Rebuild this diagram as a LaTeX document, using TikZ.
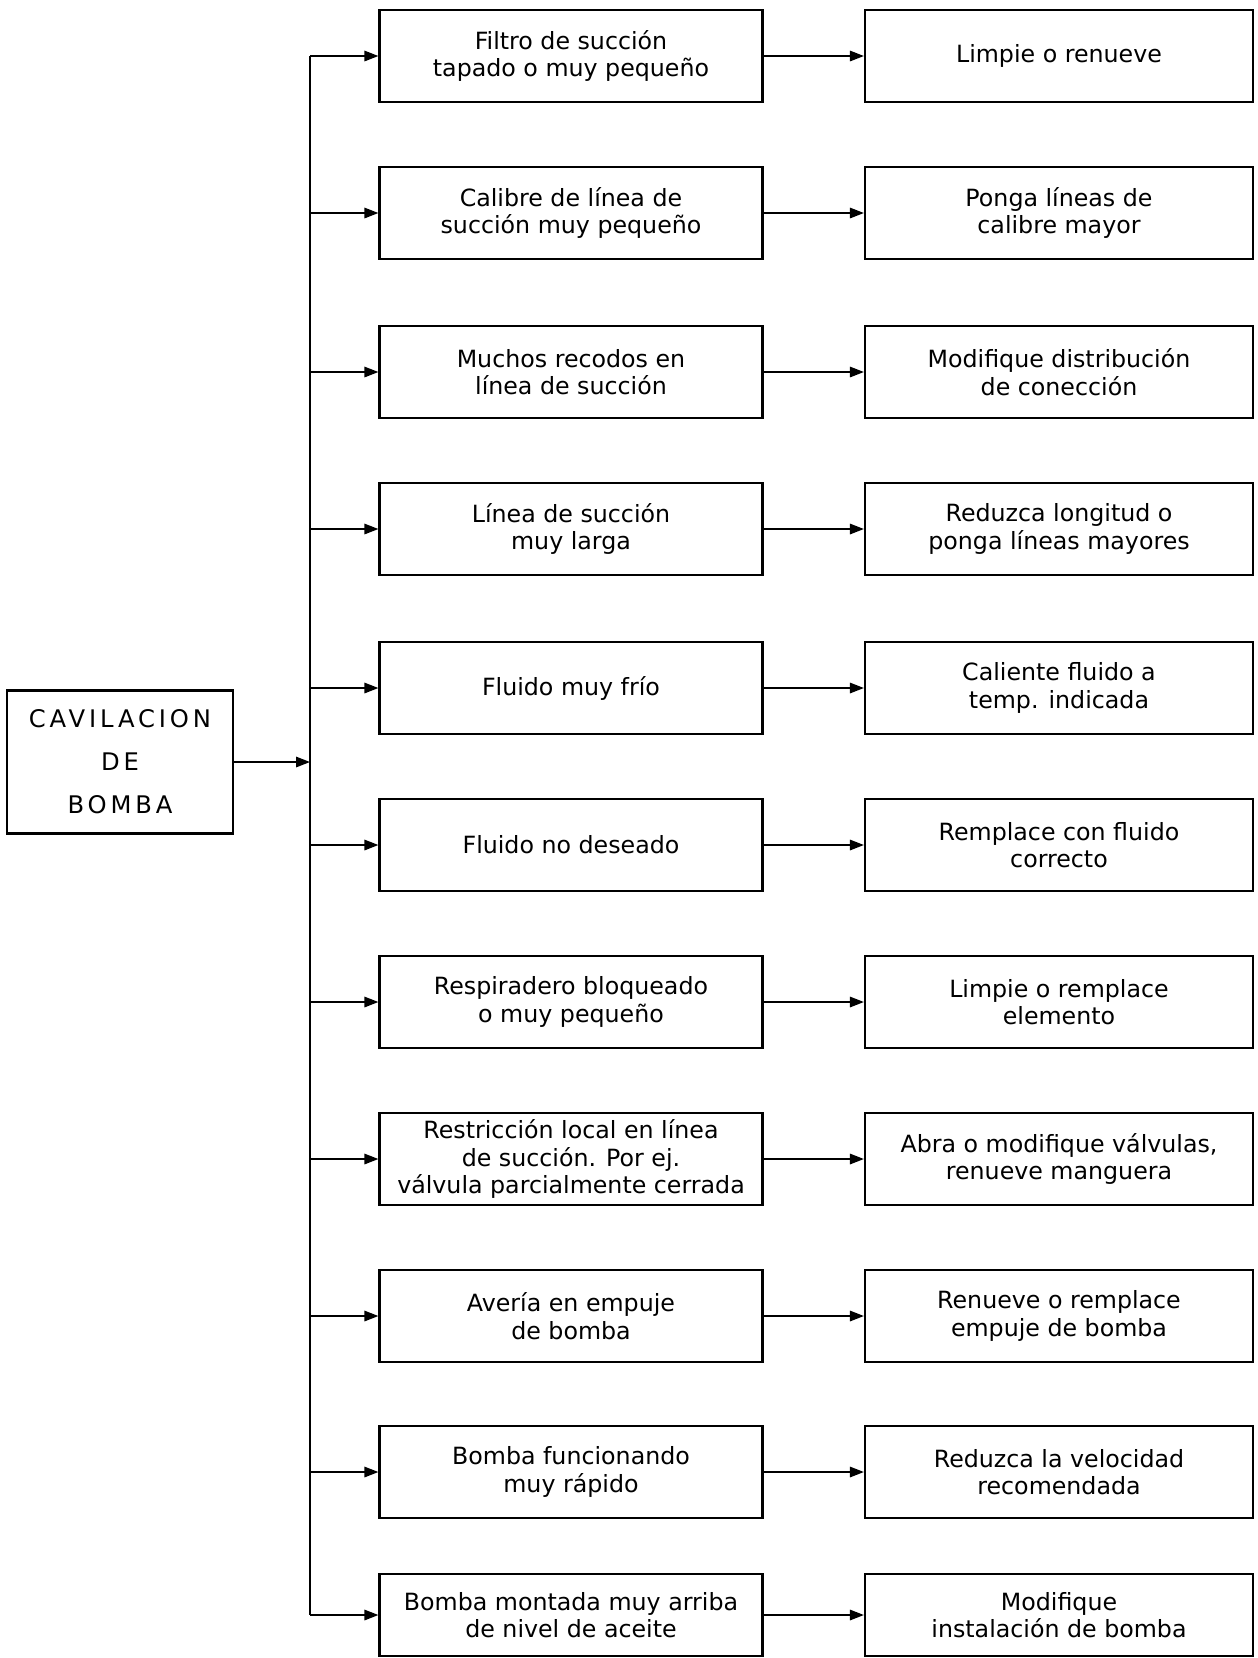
\documentclass[tikz,border=0pt]{standalone}
\usepackage{fontspec}
\setmainfont{DejaVu Sans}
\usetikzlibrary{arrows.meta}

\begin{document}
\begin{tikzpicture}[x=0.02cm, y=-0.02cm,
        causa/.style={rectangle, draw=black, line width=1.3pt, minimum width=7.66cm, minimum height=1.84cm,
            inner sep=0pt, align=center, font=\fontsize{13.5}{15.6}\selectfont},
        remedio/.style={causa, minimum width=7.76cm},
        flecha/.style={line width=0.9pt, -{Triangle[length=2.8mm, width=2.1mm]}}]
    \useasboundingbox (0,0) rectangle (1258,1658);

    % problema principal
    \node (cav)[rectangle, draw=black, line width=1.3pt, minimum width=4.52cm, minimum height=2.86cm, align=center,
        font=\addfontfeatures{LetterSpace=16}\fontsize{13.8}{24.4}\selectfont] at (120, 762) {CAVILACION\\DE\\BOMBA};

    % causas
    \node (c1)[causa] at (571, 56) {Filtro de succión\\tapado o muy pequeño};
    \node (c2)[causa] at (571, 213) {Calibre de línea de\\succión muy pequeño};
    \node (c3)[causa] at (571, 372) {Muchos recodos en\\línea de succión};
    \node (c4)[causa] at (571, 529) {Línea de succión\\muy larga};
    \node (c5)[causa] at (571, 688) {Fluido muy frío};
    \node (c6)[causa] at (571, 845) {Fluido no deseado};
    \node (c7)[causa] at (571, 1002) {Respiradero bloqueado\\o muy pequeño};
    \node (c8)[causa] at (571, 1159) {Restricción local en línea\\de succión. Por ej.\\válvula parcialmente cerrada};
    \node (c9)[causa] at (571, 1316) {Avería en empuje\\de bomba};
    \node (c10)[causa] at (571, 1472) {Bomba funcionando\\muy rápido};
    \node (c11)[causa, minimum height=1.64cm] at (571, 1615) {Bomba montada muy arriba\\de nivel de aceite};

    % remedios
    \node (s1)[remedio] at (1059, 56) {Limpie o renueve};
    \node (s2)[remedio] at (1059, 213) {Ponga líneas de\\calibre mayor};
    \node (s3)[remedio] at (1059, 372) {Modifique distribución\\de conección};
    \node (s4)[remedio] at (1059, 529) {Reduzca longitud o\\ponga líneas mayores};
    \node (s5)[remedio] at (1059, 688) {Caliente fluido a\\temp. indicada};
    \node (s6)[remedio] at (1059, 845) {Remplace con fluido\\correcto};
    \node (s7)[remedio] at (1059, 1002) {Limpie o remplace\\elemento};
    \node (s8)[remedio] at (1059, 1159) {Abra o modifique válvulas,\\renueve manguera};
    \node (s9)[remedio] at (1059, 1316) {Renueve o remplace\\empuje de bomba};
    \node (s10)[remedio] at (1059, 1472) {Reduzca la velocidad\\recomendada};
    \node (s11)[remedio, minimum height=1.64cm] at (1059, 1615) {Modifique\\instalación de bomba};

    % barra de reparto
    \coordinate (bus) at (310, 762);
    \coordinate (b1) at (310, 56);
    \coordinate (b2) at (310, 213);
    \coordinate (b3) at (310, 372);
    \coordinate (b4) at (310, 529);
    \coordinate (b5) at (310, 688);
    \coordinate (b6) at (310, 845);
    \coordinate (b7) at (310, 1002);
    \coordinate (b8) at (310, 1159);
    \coordinate (b9) at (310, 1316);
    \coordinate (b10) at (310, 1472);
    \coordinate (b11) at (310, 1615);

    \draw [flecha] (cav) -- (bus);
    \draw [line width=0.8pt] (b1) -- (b11);
    \foreach \i in {1,...,11} {
        \draw [flecha] (b\i) -- (c\i);
        \draw [flecha] (c\i) -- (s\i);
    }
\end{tikzpicture}
\end{document}
